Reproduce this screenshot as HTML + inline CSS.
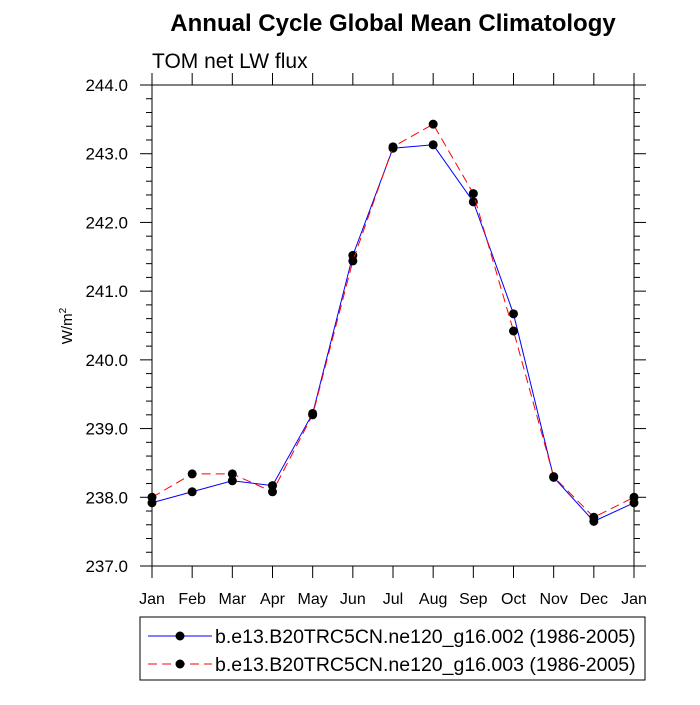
<!DOCTYPE html>
<html><head><meta charset="utf-8"><style>
body{margin:0;background:#fff}
svg text{font-family:"Liberation Sans",Arial,sans-serif}
</style></head><body>
<svg id="c" width="700" height="700">
<text x="393" y="31" text-anchor="middle" font-size="24" font-weight="bold">Annual Cycle Global Mean Climatology</text>
<text x="152" y="68" font-size="21">TOM net LW flux</text>
<text transform="translate(72,326) rotate(-90)" text-anchor="middle" font-size="15">W/m<tspan dy="-6" font-size="10">2</tspan></text>
<g id="axes"></g><g id="series"></g>
<rect x="140" y="617" width="505" height="63" fill="none" stroke="#000" stroke-width="1"/>
<g id="legend"></g>
</svg>
<script>
const months=["Jan","Feb","Mar","Apr","May","Jun","Jul","Aug","Sep","Oct","Nov","Dec","Jan"];
const yTicks=[237,238,239,240,241,242,243,244];
const seriesNames=["b.e13.B20TRC5CN.ne120_g16.002 (1986-2005)","b.e13.B20TRC5CN.ne120_g16.003 (1986-2005)"];
const blueVals=[237.92,238.08,238.24,238.17,239.22,241.52,243.08,243.13,242.30,240.67,238.29,237.65,237.92];
const redVals=[238.00,238.34,238.34,238.08,239.20,241.44,243.10,243.43,242.42,240.42,238.30,237.71,238.00];
const X0=152,X1=634,Y0=566,Y1=85,ymin=237,ymax=244;
const xs=i=>X0+(X1-X0)*i/(months.length-1);
const ys=v=>Y0-(v-ymin)/(ymax-ymin)*(Y0-Y1);
const NS="http://www.w3.org/2000/svg";
function mk(t,a,p){const e=document.createElementNS(NS,t);for(const k in a)e.setAttribute(k,a[k]);p.appendChild(e);return e;}
const ax=document.getElementById('axes');
const fr=mk('rect',{x:X0,y:Y1,width:X1-X0,height:Y0-Y1,fill:'none',stroke:'#000','stroke-width':1},ax);


months.forEach((m,i)=>{const x=xs(i);
mk('line',{x1:x,x2:x,y1:Y0,y2:Y0+12,stroke:'#000'},ax);
mk('line',{x1:x,x2:x,y1:Y1,y2:Y1-12,stroke:'#000'},ax);
const t=mk('text',{x:x,y:Y0+38,'text-anchor':'middle','font-size':16},ax);t.textContent=m;

});
for(let v=ymin;v<=ymax+1e-9;v+=0.2){const y=ys(v);const maj=Math.abs(v-Math.round(v))<1e-6;const L=maj?12:6;
mk('line',{x1:X0-L,x2:X0,y1:y,y2:y,stroke:'#000'},ax);
mk('line',{x1:X1,x2:X1+L,y1:y,y2:y,stroke:'#000'},ax);}
yTicks.forEach(v=>{const t=mk('text',{x:X0-24,y:ys(v)+6,'text-anchor':'end','font-size':17},ax);t.textContent=v.toFixed(1);

});
const sg=document.getElementById('series');
function draw(vals,col,dash,name){const g=mk('g',{},sg);


mk('polyline',{points:vals.map((v,i)=>xs(i)+','+ys(v)).join(' '),fill:'none',stroke:col,'stroke-width':1,'stroke-dasharray':dash},g);
vals.forEach((v,i)=>{const c=mk('circle',{cx:xs(i),cy:ys(v),r:4.5,fill:'#000'},g);

});}
draw(blueVals,'#0000ff','none','series-002');
draw(redVals,'#ff0000','9,5','series-003');
const lg=document.getElementById('legend');
[['#0000ff','none',636],['#ff0000','9,5',664]].forEach((s,k)=>{const g=mk('g',{},lg);


mk('line',{x1:148,x2:212,y1:s[2],y2:s[2],stroke:s[0],'stroke-dasharray':s[1]},g);
mk('circle',{cx:180,cy:s[2],r:4.5,fill:'#000'},g);
const t=mk('text',{x:215,y:s[2]+7,'font-size':19.5},g);t.textContent=seriesNames[k];});
</script>
</body></html>
